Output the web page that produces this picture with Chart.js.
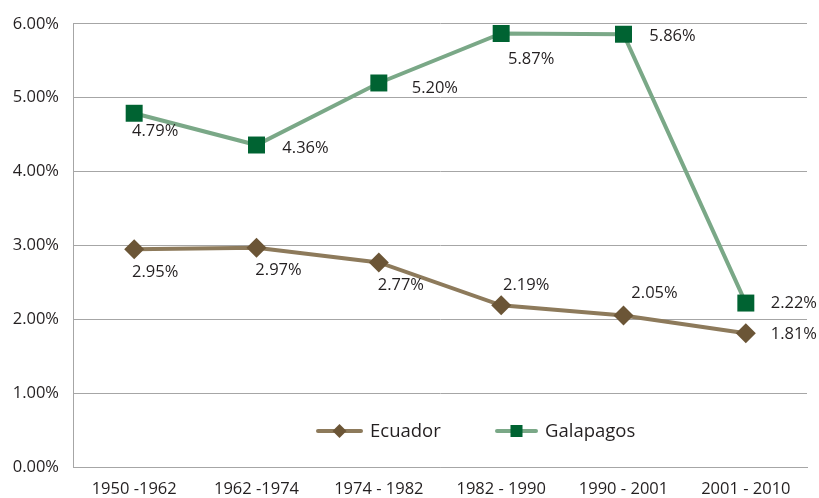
<!DOCTYPE html>
<html>
<head>
<meta charset="utf-8">
<script src="https://cdn.jsdelivr.net/npm/chart.js@4/dist/chart.umd.min.js"></script>
<style>
html,body{margin:0;padding:0;background:#fff;}
#wrap{width:819px;height:498px;position:relative;}
</style>
</head>
<body>
<div id="wrap"><canvas id="c" width="819" height="498"></canvas></div>
<script>
const categories = ["1950 -1962", "1962 -1974", "1974 - 1982", "1982 - 1990", "1990 - 2001", "2001 - 2010"];
const ecuador = [2.95, 2.97, 2.77, 2.19, 2.05, 1.81];
const galapagos = [4.79, 4.36, 5.20, 5.87, 5.86, 2.22];
const yTicks = [0, 1, 2, 3, 4, 5, 6];

const FONT = "'Open Sans', 'Noto Sans', sans-serif";
const TEXT = '#231f20';

// label offsets (text centre relative to point), per dataset
const labelOffsets = [
  [[21,23],[22,23],[22,23],[25,-20],[31,-22],[48,1]],
  [[21,18],[49,3],[56,5],[30,26],[49,2],[48,0]]
];

const labelPlugin = {
  id: 'valueLabels',
  afterDatasetsDraw(chart) {
    const ctx = chart.ctx;
    ctx.save();
    ctx.font = '16.5px ' + FONT;
    ctx.fillStyle = TEXT;
    ctx.textAlign = 'center';
    ctx.textBaseline = 'middle';
    chart.data.datasets.forEach((ds, di) => {
      const meta = chart.getDatasetMeta(di);
      meta.data.forEach((pt, i) => {
        const off = labelOffsets[di][i];
        ctx.fillText(ds.data[i].toFixed(2) + '%', pt.x + off[0], pt.y + off[1]);
      });
    });
    ctx.restore();
  }
};

const legendPlugin = {
  id: 'innerLegend',
  afterDraw(chart) {
    const ctx = chart.ctx;
    const a = chart.chartArea;
    const y = a.bottom - 36;
    ctx.save();
    chart.data.datasets.forEach((ds, di) => {
      const x0 = a.left + (di === 0 ? 245 : 424);
      const len = di === 0 ? 43 : 39;
      ctx.strokeStyle = ds.borderColor;
      ctx.lineWidth = 4;
      ctx.lineCap = 'round';
      ctx.beginPath();
      ctx.moveTo(x0, y);
      ctx.lineTo(x0 + len, y);
      ctx.stroke();
      const cx = x0 + len / 2;
      ctx.fillStyle = ds.pointBackgroundColor;
      ctx.beginPath();
      if (di === 0) {
        ctx.moveTo(cx, y - 7); ctx.lineTo(cx + 7, y); ctx.lineTo(cx, y + 7); ctx.lineTo(cx - 7, y);
        ctx.closePath(); ctx.fill();
      } else {
        ctx.fillRect(cx - 6, y - 6, 12, 12);
      }
      ctx.fillStyle = TEXT;
      ctx.font = '18.5px ' + FONT;
      ctx.textAlign = 'left';
      ctx.textBaseline = 'middle';
      ctx.fillText(ds.label, x0 + len + 9, y + 1);
    });
    ctx.restore();
  }
};

new Chart(document.getElementById('c'), {
  type: 'line',
  data: {
    labels: categories,
    datasets: [
      {
        label: 'Ecuador',
        data: ecuador,
        borderColor: '#8d7a5b',
        borderWidth: 4,
        pointStyle: 'rectRot',
        pointRadius: 10,
        pointHoverRadius: 10,
        pointBackgroundColor: '#6b5536',
        pointBorderColor: '#6b5536',
        pointBorderWidth: 0,
        tension: 0
      },
      {
        label: 'Galapagos',
        data: galapagos,
        borderColor: '#7aa887',
        borderWidth: 4,
        pointStyle: 'rect',
        pointRadius: 12,
        pointHoverRadius: 12,
        pointBackgroundColor: '#006332',
        pointBorderColor: '#006332',
        pointBorderWidth: 0,
        tension: 0
      }
    ]
  },
  options: {
    responsive: false,
    animation: false,
    devicePixelRatio: 1,
    layout: { padding: { top: 22, right: 10, left: 0, bottom: 0 } },
    plugins: { legend: { display: false }, tooltip: { enabled: false } },
    scales: {
      x: {
        offset: true,
        grid: { display: false, drawTicks: false },
        border: { display: true, color: '#a6a6a6', width: 1 },
        ticks: { color: TEXT, font: { family: FONT, size: 16.5 }, padding: 12, maxRotation: 0, autoSkip: false },
        afterFit(scale) { scale.height = 31; }
      },
      y: {
        min: 0, max: 6,
        afterBuildTicks(scale) { scale.ticks = yTicks.map(v => ({ value: v })); },
        grid: { color: '#a6a6a6', lineWidth: 1, drawTicks: false },
        border: { display: true, color: '#a6a6a6', width: 1 },
        ticks: { color: TEXT, font: { family: FONT, size: 16.5 }, padding: 14,
          callback: v => v.toFixed(2) + '%' },
        afterFit(scale) { scale.width = 73; }
      }
    }
  },
  plugins: [labelPlugin, legendPlugin]
});
</script>
</body>
</html>
